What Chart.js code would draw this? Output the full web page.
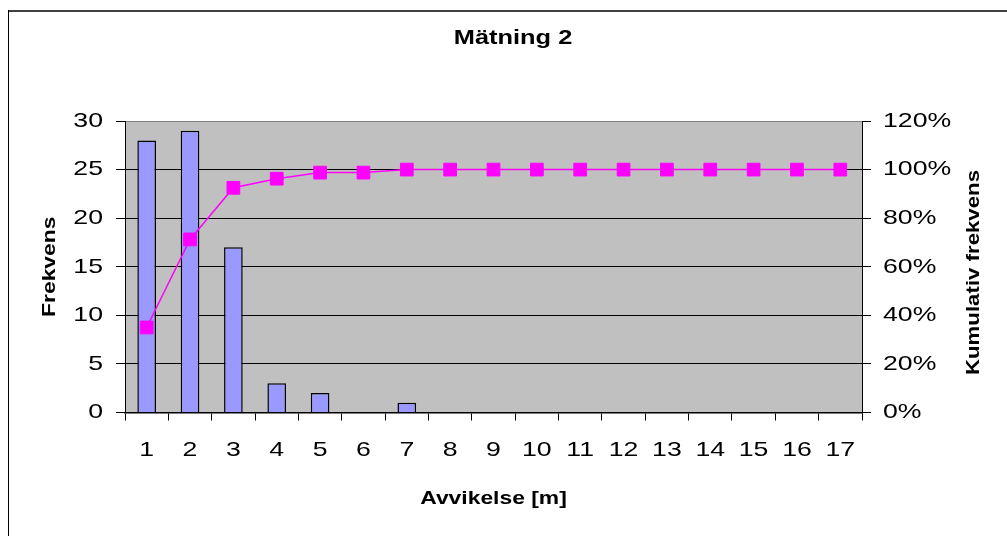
<!DOCTYPE html>
<html>
<head>
<meta charset="utf-8">
<script src="https://cdn.jsdelivr.net/npm/chart.js@4/dist/chart.umd.min.js"></script>
<style>
  html, body { margin: 0; padding: 0; background: #ffffff; }
  canvas { display: block; }
</style>
</head>
<body>
<canvas id="chart" width="1007" height="536"></canvas>
<script>
// Deviation classes (metres)
const categories = ['1', '2', '3', '4', '5', '6', '7', '8', '9', '10', '11', '12', '13', '14', '15', '16', '17'];
// Number of observations per class
const frequency = [28, 29, 17, 3, 2, 0, 1, 0, 0, 0, 0, 0, 0, 0, 0, 0, 0];
// Cumulative share of observations
const cumulative = [0.35, 0.7125, 0.925, 0.9625, 0.9875, 0.9875, 1, 1, 1, 1, 1, 1, 1, 1, 1, 1, 1];
// Axis ranges
const freqAxis = { min: 0, max: 30, step: 5 };
const shareAxis = { min: 0, max: 1.2, step: 0.2 };
// Texts
const chartTitle = 'Mätning 2';
const xTitle = 'Avvikelse [m]';
const yTitle = 'Frekvens';
const y2Title = 'Kumulativ frekvens';

const FONT = '"Liberation Sans", Arial, Helvetica, sans-serif';
const TEXT_STRETCH = 1.27;

const canvas = document.getElementById('chart');
const ctx = canvas.getContext('2d');

// Wide lettering: every text run is stretched horizontally around its anchor.
const plainFillText = ctx.fillText.bind(ctx);
ctx.fillText = function (text, x, y, maxWidth) {
  ctx.save();
  ctx.translate(x, y);
  ctx.scale(TEXT_STRETCH, 1);
  if (maxWidth === undefined) plainFillText(text, 0, 0);
  else plainFillText(text, 0, 0, maxWidth / TEXT_STRETCH);
  ctx.restore();
};

// Grey plot background, outer frame, chart title and the secondary axis title.
const decorations = {
  id: 'decorations',
  beforeDraw(chart) {
    const c = chart.ctx;
    const a = chart.chartArea;
    c.save();
    c.fillStyle = '#ffffff';
    c.fillRect(0, 0, chart.width, chart.height);
    c.fillStyle = '#C0C0C0';
    c.fillRect(a.left, a.top, a.right - a.left, a.bottom - a.top);
    // frame (top and left edges)
    c.strokeStyle = '#404040';
    c.lineWidth = 2;
    c.beginPath();
    c.moveTo(8, 11);
    c.lineTo(chart.width, 11);
    c.stroke();
    c.strokeStyle = '#000000';
    c.lineWidth = 1;
    c.beginPath();
    c.moveTo(8.5, 10);
    c.lineTo(8.5, chart.height);
    c.stroke();
    c.restore();
  },
  afterDraw(chart) {
    const c = chart.ctx;
    c.save();
    c.fillStyle = '#000000';
    c.textAlign = 'center';
    c.textBaseline = 'middle';
    c.font = 'bold 20px ' + FONT;
    c.fillText(chartTitle, 513, 38.5);
    c.translate(974, 272.5);
    c.rotate(-Math.PI / 2);
    c.font = 'bold 17.5px ' + FONT;
    c.fillText(y2Title, 0, 0);
    c.restore();
  }
};

const pct = v => Math.round(v * 100) + '%';

new Chart(ctx, {
  data: {
    labels: categories,
    datasets: [
      {
        type: 'line',
        label: y2Title,
        data: cumulative,
        yAxisID: 'y2',
        order: 0,
        borderColor: '#FF00FF',
        borderWidth: 1.5,
        pointStyle: 'rect',
        pointRadius: 9,
        pointBackgroundColor: '#FF00FF',
        pointBorderColor: '#FF00FF',
        pointBorderWidth: 1,
        tension: 0
      },
      {
        type: 'bar',
        label: yTitle,
        data: frequency,
        yAxisID: 'y',
        order: 1,
        backgroundColor: '#9999FF',
        borderColor: '#000000',
        borderWidth: 1.5,
        barPercentage: 0.43,
        categoryPercentage: 1
      }
    ]
  },
  options: {
    responsive: false,
    animation: false,
    devicePixelRatio: 1,
    layout: { padding: { top: 121, left: 0, right: 0, bottom: 0 } },
    plugins: {
      legend: { display: false },
      tooltip: { enabled: false },
      title: { display: false }
    },
    scales: {
      x: {
        type: 'category',
        offset: true,
        afterFit(scale) { scale.height = 123.5; },
        grid: {
          offset: true,
          drawOnChartArea: false,
          drawTicks: true,
          tickLength: 8,
          tickColor: '#000000',
          tickWidth: 1
        },
        border: { display: true, color: '#000000', width: 1.5 },
        ticks: {
          color: '#000000',
          font: { family: FONT, size: 21 },
          padding: 17.5,
          maxRotation: 0,
          autoSkip: false
        },
        title: {
          display: true,
          text: xTitle,
          color: '#000000',
          font: { family: FONT, size: 18, weight: 'bold' },
          padding: { top: 0, bottom: 25.7 }
        }
      },
      y: {
        position: 'left',
        min: freqAxis.min,
        max: freqAxis.max,
        afterFit(scale) { scale.width = 125; },
        grid: {
          drawOnChartArea: true,
          color: c => (c.tick && c.tick.value === freqAxis.max ? '#808080' : '#000000'),
          lineWidth: 1,
          drawTicks: true,
          tickLength: 9,
          tickColor: '#000000'
        },
        border: { display: true, color: '#000000', width: 1 },
        ticks: {
          stepSize: freqAxis.step,
          color: '#000000',
          font: { family: FONT, size: 21 },
          padding: 13
        },
        title: {
          display: true,
          text: yTitle,
          color: '#000000',
          font: { family: FONT, size: 18, weight: 'bold' },
          padding: { top: 39, bottom: 0 }
        }
      },
      y2: {
        position: 'right',
        min: shareAxis.min,
        max: shareAxis.max,
        afterFit(scale) { scale.width = 145; },
        grid: {
          drawOnChartArea: false,
          drawTicks: true,
          tickLength: 9,
          tickColor: '#000000'
        },
        border: { display: true, color: '#000000', width: 1 },
        ticks: {
          stepSize: shareAxis.step,
          color: '#000000',
          font: { family: FONT, size: 21 },
          padding: 12,
          callback: v => pct(v)
        },
        title: { display: false }
      }
    }
  },
  plugins: [decorations]
});
</script>
</body>
</html>
